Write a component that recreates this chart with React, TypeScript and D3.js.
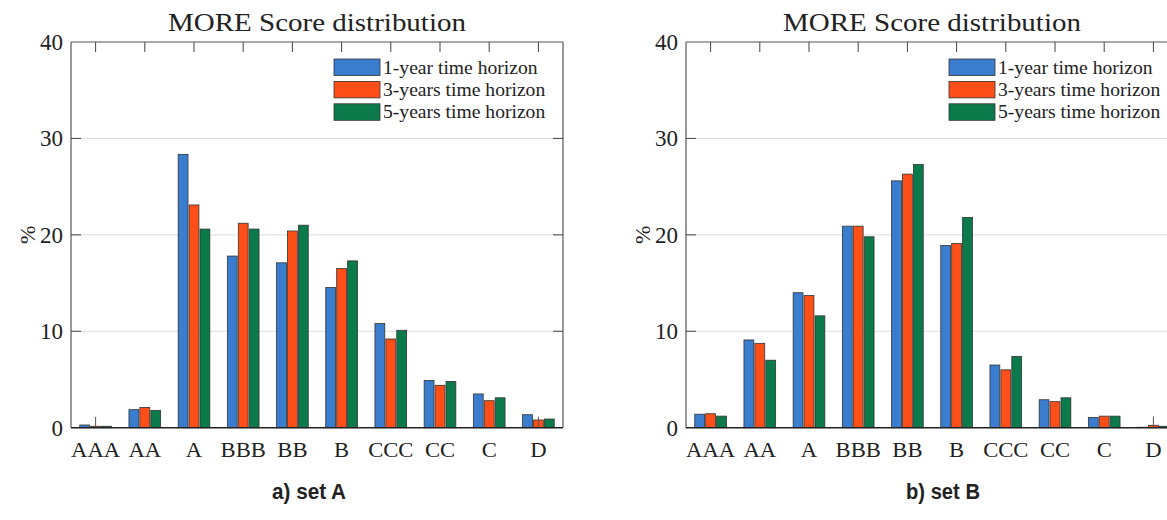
import React from 'react';
import * as d3 from 'd3';

// Rating classes on the x axis
const categories = ['AAA', 'AA', 'A', 'BBB', 'BB', 'B', 'CCC', 'CC', 'C', 'D'];

// Series (time horizons) and their fills
const seriesNames = ['1-year time horizon', '3-years time horizon', '5-years time horizon'];
const seriesColors = ['#3a7dce', '#ff4f18', '#0b7a4a'];

// Set A: share of firms (%) per rating class
const setA1y = [0.28, 1.87, 28.35, 17.8, 17.1, 14.55, 10.8, 4.9, 3.5, 1.35];
const setA3y = [0.15, 2.1, 23.1, 21.2, 20.4, 16.5, 9.2, 4.4, 2.8, 0.8];
const setA5y = [0.15, 1.8, 20.6, 20.6, 21.0, 17.3, 10.1, 4.8, 3.1, 0.9];

// Set B: share of firms (%) per rating class
const setB1y = [1.4, 9.1, 14.0, 20.9, 25.6, 18.9, 6.5, 2.9, 1.05, 0.05];
const setB3y = [1.45, 8.75, 13.7, 20.9, 26.3, 19.1, 6.0, 2.7, 1.2, 0.25];
const setB5y = [1.2, 7.0, 11.6, 19.8, 27.3, 21.8, 7.4, 3.1, 1.2, 0.15];

// Thin whiskers drawn over a few small bars (category, series index, upper value)
const whiskersA = [
  { cat: 'AAA', series: 1, hi: 1.1 },
  { cat: 'D', series: 1, hi: 1.15 },
];
const whiskersB = [{ cat: 'D', series: 1, hi: 1.15 }];

const yTicks = [0, 10, 20, 30, 40];
const gridTicks = [10, 20, 30];

const SERIF = "'Liberation Serif', 'Times New Roman', serif";

const PLOT_TOP = 42;
const PLOT_H = 385.7;
const PLOT_W = 492;

type Whisker = { cat: string; series: number; hi: number };

function Panel({
  left,
  series,
  whiskers,
  caption,
  captionX,
}: {
  left: number;
  series: number[][];
  whiskers: Whisker[];
  caption: string;
  captionX: number;
}) {
  const x = d3.scaleLinear().domain([0.5, categories.length + 0.5]).range([left, left + PLOT_W]);
  const y = d3.scaleLinear().domain([0, 40]).range([PLOT_TOP + PLOT_H, PLOT_TOP]);
  const offset = d3.scaleLinear().domain([0, 2]).range([-0.222, 0.222]);
  const barW = x(0.2) - x(0);
  const right = left + PLOT_W;
  const bottom = y(0);
  const cx = left + PLOT_W / 2;

  return (
    <g>
      {/* title */}
      <text
        transform={`translate(${cx},31) scale(1.16,1)`}
        textAnchor="middle"
        fontFamily={SERIF}
        fontSize={25}
        fill="#222"
      >
        MORE Score distribution
      </text>

      {/* horizontal gridlines */}
      {gridTicks.map((t) => (
        <line key={t} x1={left} x2={right} y1={y(t)} y2={y(t)} stroke="#dedede" strokeWidth={1} />
      ))}

      {/* bars */}
      {series.map((vals, si) =>
        vals.map((v, ci) => {
          const c = x(ci + 1 + offset(si));
          return (
            <rect
              key={`${si}-${ci}`}
              x={c - barW / 2}
              y={y(v)}
              width={barW}
              height={bottom - y(v)}
              fill={seriesColors[si]}
              stroke="#333"
              strokeWidth={0.8}
            />
          );
        })
      )}

      {/* whiskers */}
      {whiskers.map((w, i) => {
        const ci = categories.indexOf(w.cat);
        const c = x(ci + 1 + offset(w.series));
        return <line key={i} x1={c} x2={c} y1={bottom} y2={y(w.hi)} stroke="#555" strokeWidth={1} />;
      })}

      {/* axes box */}
      <line x1={left} x2={right} y1={PLOT_TOP} y2={PLOT_TOP} stroke="#555" strokeWidth={1.2} />
      <line x1={left} x2={left} y1={PLOT_TOP} y2={bottom} stroke="#555" strokeWidth={1.2} />
      <line x1={right} x2={right} y1={PLOT_TOP} y2={bottom} stroke="#555" strokeWidth={1.2} />
      <line x1={left} x2={right} y1={bottom} y2={bottom} stroke="#222" strokeWidth={1.4} />

      {/* category ticks along the top */}
      {categories.map((c, i) => (
        <line key={c} x1={x(i + 1)} x2={x(i + 1)} y1={PLOT_TOP} y2={PLOT_TOP + 10} stroke="#444" strokeWidth={1} />
      ))}

      {/* y ticks, left and right */}
      {gridTicks.map((t) => (
        <g key={t}>
          <line x1={left} x2={left + 10} y1={y(t)} y2={y(t)} stroke="#444" strokeWidth={1} />
          <line x1={right - 10} x2={right} y1={y(t)} y2={y(t)} stroke="#444" strokeWidth={1} />
        </g>
      ))}

      {/* y tick labels */}
      {yTicks.map((t) => (
        <text
          key={t}
          x={left - 8}
          y={y(t)}
          dy="0.35em"
          textAnchor="end"
          fontFamily={SERIF}
          fontSize={23}
          fill="#222"
        >
          {t}
        </text>
      ))}

      {/* y axis label */}
      <text
        transform={`translate(${left - 44},${PLOT_TOP + PLOT_H / 2}) rotate(-90)`}
        textAnchor="middle"
        dy="0.35em"
        fontFamily={SERIF}
        fontSize={22}
        fill="#222"
      >
        %
      </text>

      {/* category labels */}
      {categories.map((c, i) => (
        <text
          key={c}
          transform={`translate(${x(i + 1)},${bottom + 29}) scale(1.03,1)`}
          textAnchor="middle"
          fontFamily={SERIF}
          fontSize={22}
          fill="#222"
        >
          {c}
        </text>
      ))}

      {/* legend */}
      {seriesNames.map((name, si) => {
        const ry = 59 + si * 22.4;
        return (
          <g key={name}>
            <rect x={left + 263} y={ry} width={46} height={16.5} fill={seriesColors[si]} stroke="#333" strokeWidth={0.8} />
            <text
              transform={`translate(${left + 312},${ry + 8.25}) scale(1.09,1)`}
              dy="0.35em"
              fontFamily={SERIF}
              fontSize={18}
              fill="#222"
            >
              {name}
            </text>
          </g>
        );
      })}

      {/* panel caption */}
      <text
        x={captionX}
        y={499}
        textAnchor="middle"
        fontFamily="'Liberation Sans', Arial, sans-serif"
        fontWeight="bold"
        fontSize={22}
        textLength={74}
        lengthAdjust="spacingAndGlyphs"
        fill="#222"
      >
        {caption}
      </text>
    </g>
  );
}

export default function App() {
  return (
    <svg
      width={1167}
      height={520}
      viewBox="0 0 1167 520"
      style={{ position: 'absolute', left: 0, top: 0, background: '#fff' }}
    >
      <rect width={1167} height={520} fill="#fff" />
      <Panel left={71} series={[setA1y, setA3y, setA5y]} whiskers={whiskersA} caption="a) set A" captionX={309} />
      <Panel left={686} series={[setB1y, setB3y, setB5y]} whiskers={whiskersB} caption="b) set B" captionX={943} />
    </svg>
  );
}
